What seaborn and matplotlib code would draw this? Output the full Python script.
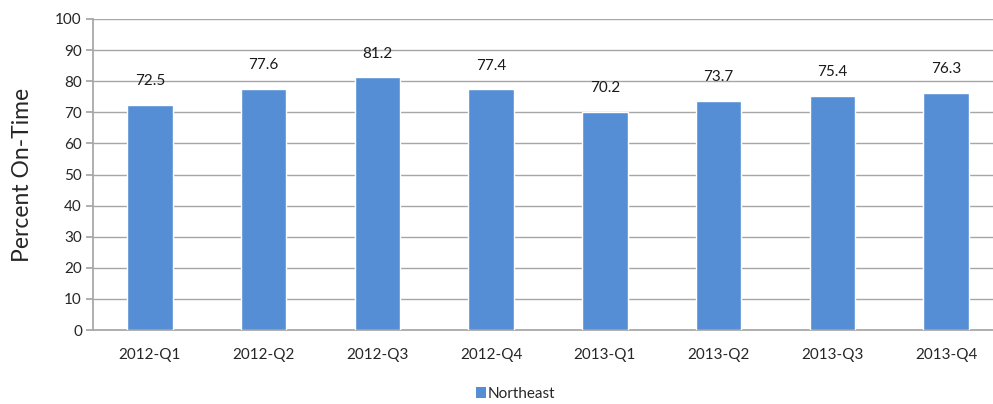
import matplotlib
matplotlib.use("Agg")
import matplotlib.pyplot as plt
import seaborn as sns
import pandas as pd
from matplotlib.patches import Patch

categories = ["2012-Q1", "2012-Q2", "2012-Q3", "2012-Q4", "2013-Q1", "2013-Q2", "2013-Q3", "2013-Q4"]
values = [72.5, 77.6, 81.2, 77.4, 70.2, 73.7, 75.4, 76.3]
series_name = "Northeast"
y_ticks = list(range(0, 101, 10))

sns.set_theme(style="white")
plt.rcParams['font.family'] = ['Lato', 'DejaVu Sans']

df = pd.DataFrame({"quarter": categories, "pct": values})

W, H = 993, 404
fig = plt.figure(figsize=(W / 100, H / 100), dpi=100)
left_px, right_px, top_px, bottom_px = 93, 1003, 19, 330
ax = fig.add_axes([left_px / W, 1 - bottom_px / H,
                   (right_px - left_px) / W, (bottom_px - top_px) / H])

bar_color = "#558ED5"
sns.barplot(data=df, x="quarter", y="pct", color=bar_color, width=0.40,
            saturation=1, ax=ax, zorder=3)

ax.set_ylim(0, 100)
ax.set_yticks(y_ticks)
ax.yaxis.grid(True, color="#A6A6A6", linewidth=1.0, zorder=0)
ax.set_axisbelow(True)
for s in ["top", "right"]:
    ax.spines[s].set_visible(False)
ax.spines["left"].set_color("#A6A6A6")
ax.spines["bottom"].set_color("#A6A6A6")
ax.tick_params(axis="y", which="both", left=True, length=5, color="#A6A6A6",
               labelsize=11, pad=3)
ax.tick_params(axis="x", bottom=False, labelsize=11, pad=7)
ax.set_xlabel("")
ax.set_ylabel("Percent On-Time", fontsize=16.5)
ax.yaxis.set_label_coords((33 - left_px) / (right_px - left_px), 0.5)

for container in ax.containers:
    ax.bar_label(container, labels=[f"{v:.1f}" for v in values], padding=12,
                 fontsize=11, color="#1a1a1a")

ax.set_xlim(-0.5, len(categories) - 0.5)

handles = [Patch(facecolor=bar_color, edgecolor="none", label=series_name)]
fig.legend(handles=handles, loc="center", bbox_to_anchor=(0.519, 1 - 394 / H),
           frameon=False, fontsize=11, handlelength=0.7, handleheight=0.7,
           handletextpad=0.1, borderpad=0, borderaxespad=0)

fig.savefig("out.png", dpi=100)
